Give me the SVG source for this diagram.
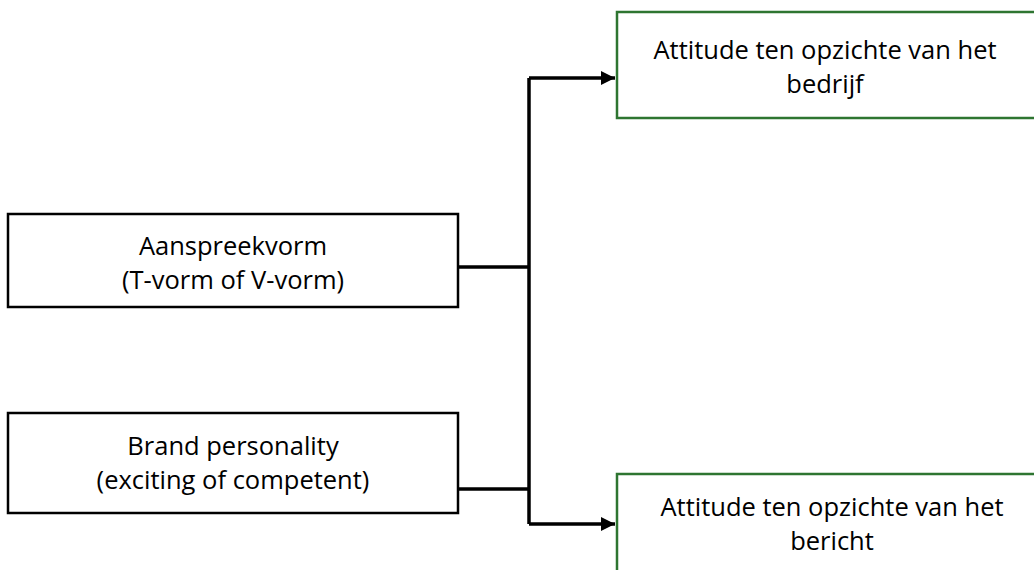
<svg xmlns="http://www.w3.org/2000/svg" width="1034" height="570" viewBox="0 0 1034 570">
<style>
.box{fill:#fff;stroke:#000;stroke-width:2.5}
.gbox{fill:#fff;stroke:#2e7531;stroke-width:2.5}
.t{font-family:"Open Sans","Liberation Sans",sans-serif;font-size:25.5px;fill:#000;text-anchor:middle}
.c{fill:none;stroke:#000;stroke-width:3.5}
</style>
<defs>
<marker id="ah" markerWidth="14" markerHeight="14" refX="14" refY="7" orient="auto" markerUnits="userSpaceOnUse">
<path d="M0,0 L14,7 L0,14 Z" fill="#000"/>
</marker>
</defs>
<rect width="1034" height="570" fill="#fff"/>
<g id="connectors">
<path class="c" d="M458,267 H529"/>
<path class="c" d="M458,489 H529"/>
<path class="c" d="M529,78 V524"/>
<path class="c" d="M529,78 H615" marker-end="url(#ah)"/>
<path class="c" d="M529,524 H615" marker-end="url(#ah)"/>
</g>
<g id="node-aanspreekvorm">
<rect class="box" x="8" y="214" width="450" height="93"/>
<text class="t" x="233" y="255">Aanspreekvorm</text>
<text class="t" x="233" y="289">(T-vorm of V-vorm)</text>
</g>
<g id="node-brand">
<rect class="box" x="8" y="413" width="450" height="100"/>
<text class="t" x="233" y="455">Brand personality</text>
<text class="t" x="233" y="489">(exciting of competent)</text>
</g>
<g id="node-bedrijf">
<rect class="gbox" x="617" y="12" width="430" height="106"/>
<text class="t" x="825" y="59">Attitude ten opzichte van het</text>
<text class="t" x="825" y="93">bedrijf</text>
</g>
<g id="node-bericht">
<rect class="gbox" x="617" y="474" width="430" height="110"/>
<text class="t" x="832" y="516">Attitude ten opzichte van het</text>
<text class="t" x="832" y="550">bericht</text>
</g>
</svg>
